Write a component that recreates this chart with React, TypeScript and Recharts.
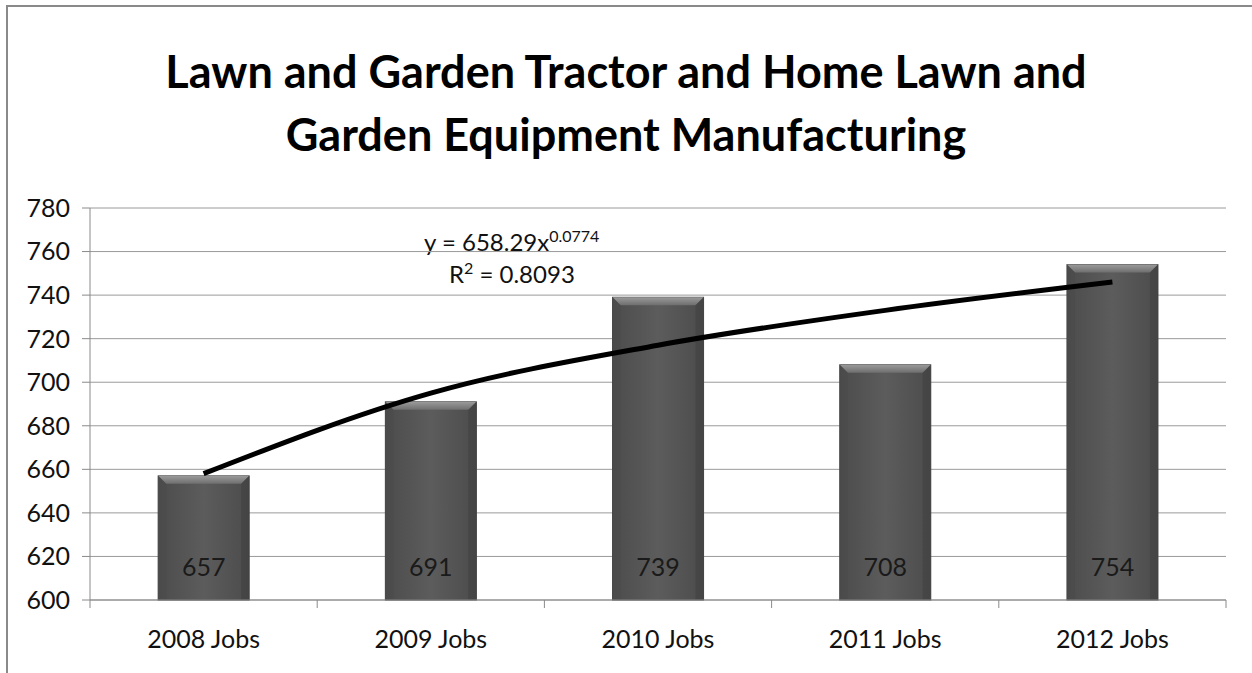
import React from 'react';
import {
  ComposedChart,
  Bar,
  Line,
  XAxis,
  YAxis,
  CartesianGrid,
  LabelList,
} from 'recharts';

const categories = ['2008 Jobs', '2009 Jobs', '2010 Jobs', '2011 Jobs', '2012 Jobs'];
const jobs = [657, 691, 739, 708, 754];
// power trendline at each category centre
const trend = [658, 695, 717, 733, 746];
const yTicks = [600, 620, 640, 660, 680, 700, 720, 740, 760, 780];
const boundaryTicks = [0, 1, 2, 3, 4, 5];

const data = categories.map((name, i) => ({ name, jobs: jobs[i], trend: trend[i], pos: i + 0.5 }));

const FONT = 'Lato, "Open Sans", sans-serif';

const BevelBar = (props: any) => {
  const { x, y, width, height } = props;
  if (!height || height <= 0) return null;
  const b = 8;
  return (
    <g>
      <rect x={x} y={y} width={width} height={height} fill="url(#barGrad)" stroke="#444" strokeWidth={1} />
      <polygon
        points={`${x},${y} ${x + width},${y} ${x + width - b},${y + b} ${x + b},${y + b}`}
        fill="url(#bevelGrad)"
      />
      <polygon points={`${x},${y} ${x + b},${y + b} ${x + b},${y + height} ${x},${y + height}`} fill="#4a4a4a" opacity={0.5} />
      <polygon
        points={`${x + width},${y} ${x + width - b},${y + b} ${x + width - b},${y + height} ${x + width},${y + height}`}
        fill="#3e3e3e"
        opacity={0.5}
      />
    </g>
  );
};

const NoTick = () => <g />;

export default function App() {
  return (
    <div
      style={{
        position: 'absolute',
        left: 0,
        top: 0,
        width: 1252,
        height: 673,
        overflow: 'hidden',
        background: '#fff',
        fontFamily: FONT,
      }}
    >
      <div
        style={{
          position: 'absolute',
          left: 6,
          top: 5,
          width: 1400,
          height: 800,
          border: '2px solid #8a8a8a',
        }}
      />
      <div
        style={{
          position: 'absolute',
          left: 0,
          top: 40,
          width: 1252,
          textAlign: 'center',
          fontWeight: 'bold',
          fontSize: 45,
          lineHeight: '63px',
          color: '#000',
        }}
      >
        Lawn and Garden Tractor and Home Lawn and
        <br />
        Garden Equipment Manufacturing
      </div>
      <div style={{ position: 'absolute', left: 424, top: 226, fontSize: 24, color: '#111', whiteSpace: 'nowrap' }}>
        y = 658.29x<sup style={{ fontSize: 16, verticalAlign: '9px' }}>0.0774</sup>
      </div>
      <div style={{ position: 'absolute', left: 449, top: 258, fontSize: 24, color: '#111', whiteSpace: 'nowrap' }}>
        R<sup style={{ fontSize: 16, verticalAlign: '9px' }}>2</sup> = 0.8093
      </div>
      <div style={{ position: 'absolute', left: 0, top: 0 }}>
        <ComposedChart
          width={1252}
          height={673}
          data={data}
          margin={{ top: 208, right: 26, bottom: 42, left: 30 }}
          barCategoryGap="30%"
        >
          <defs>
            <linearGradient id="barGrad" x1="0" y1="0" x2="1" y2="0">
              <stop offset="0%" stopColor="#4c4c4c" />
              <stop offset="50%" stopColor="#5c5c5c" />
              <stop offset="100%" stopColor="#4c4c4c" />
            </linearGradient>
            <linearGradient id="bevelGrad" x1="0" y1="0" x2="0" y2="1">
              <stop offset="0%" stopColor="#9a9a9a" />
              <stop offset="100%" stopColor="#6e6e6e" />
            </linearGradient>
          </defs>
          <CartesianGrid xAxisId="cat" vertical={false} stroke="#9a9a9a" strokeWidth={1} />
          <XAxis
            dataKey="pos"
            type="number"
            domain={[0, 5]}
            ticks={boundaryTicks}
            interval={0}
            height={1}
            tick={NoTick}
            tickSize={8}
            tickLine={{ stroke: '#8a8a8a' }}
            axisLine={{ stroke: '#8a8a8a' }}
          />
          <XAxis
            xAxisId="cat"
            dataKey="name"
            height={30}
            tickLine={false}
            tickSize={0}
            tickMargin={29}
            axisLine={false}
            tick={{ fill: '#111', fontSize: 25, fontFamily: FONT }}
            interval={0}
          />
          <YAxis
            width={60}
            domain={[600, 780]}
            ticks={yTicks}
            interval={0}
            tickSize={8}
            tickMargin={12}
            axisLine={{ stroke: '#8a8a8a' }}
            tickLine={{ stroke: '#8a8a8a' }}
            tick={{ fill: '#111', fontSize: 25, fontFamily: FONT }}
          />
          <Bar xAxisId="cat" dataKey="jobs" shape={<BevelBar />} isAnimationActive={false}>
            <LabelList
              dataKey="jobs"
              position="insideBottom"
              offset={24}
              fill="#1a1a1a"
              fontSize={25}
              fontFamily={FONT}
            />
          </Bar>
          <Line
            xAxisId="cat"
            dataKey="trend"
            type="monotone"
            stroke="#000"
            strokeWidth={5}
            dot={false}
            isAnimationActive={false}
          />
          <Line
            dataKey="trend"
            stroke="none"
            dot={false}
            activeDot={false}
            legendType="none"
            isAnimationActive={false}
          />
        </ComposedChart>
      </div>
    </div>
  );
}
